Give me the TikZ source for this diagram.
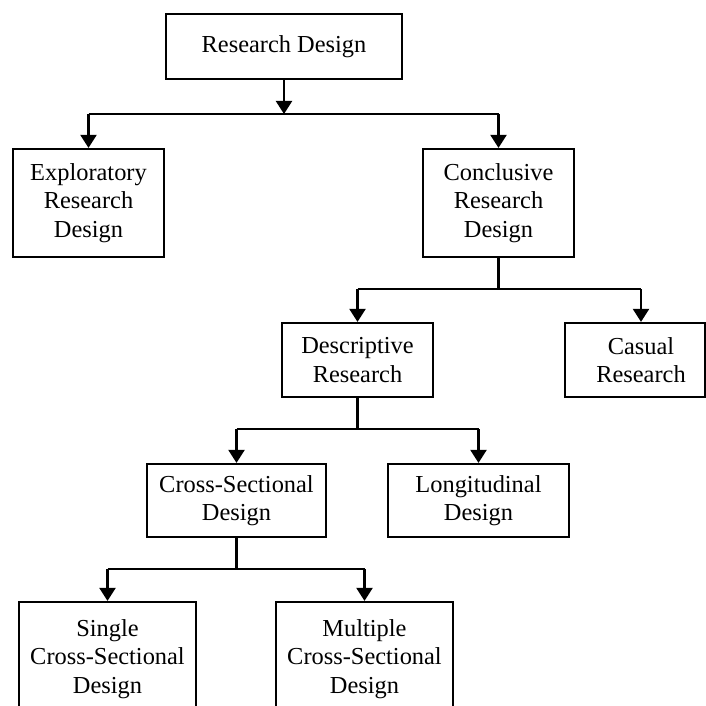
\documentclass[tikz,border=0pt]{standalone}
\usepackage{fontspec}
\setmainfont{Liberation Serif}
\usetikzlibrary{arrows.meta,calc}
\tikzset{
  box/.style={draw, line width=2.2pt, inner sep=0pt, align=center,
    font=\fontsize{24.4}{28.5}\selectfont},
  conn/.style={line width=2.2pt},
  arr/.style={line width=2.2pt, -{Triangle[width=16pt,length=13pt]}}
}
\begin{document}
\begin{tikzpicture}[x=1pt,y=-1pt]
\useasboundingbox[fill=white] (0,0) rectangle (706,706);
\node[box, minimum width=236, minimum height=65] (rd) at (284,46.5) {Research Design};
\node[box, minimum width=151, minimum height=108] (exp) at (88.5,203) {Exploratory\\Research\\Design};
\node[box, minimum width=151, minimum height=108] (con) at (498.5,203) {Conclusive\\Research\\Design};
\node[box, minimum width=151, minimum height=74] (desc) at (357.5,360) {Descriptive\\Research};
\node[box, minimum width=140, minimum height=74] (cas) at (635,360) {\hspace*{12pt}Casual\\\hspace*{12pt}Research};
\node[box, minimum width=179, minimum height=73] (cross) at (236.5,500.5) {Cross-Sectional\\Design};
\node[box, minimum width=181, minimum height=73] (long) at (478.5,500.5) {Longitudinal\\Design};
\node[box, minimum width=177, minimum height=114] (single) at (107.5,659) {Single\\Cross-Sectional\\Design};
\node[box, minimum width=177, minimum height=114] (mult) at (364.5,659) {Multiple\\Cross-Sectional\\Design};

% level 1
\coordinate (j1) at (284,114);
\draw[arr] (rd.south) -- (rd.south |- j1);
\draw[conn] (exp.north |- j1) -- (con.north |- j1);
\draw[arr] (exp.north |- j1) -- (exp.north);
\draw[arr] (con.north |- j1) -- (con.north);

% level 2
\coordinate (j2) at (498.5,289);
\coordinate (castop) at ($(cas.north)+(6,0)$);
\draw[conn] (con.south) -- (con.south |- j2);
\draw[conn] (desc.north |- j2) -- (castop |- j2);
\draw[arr] (desc.north |- j2) -- (desc.north);
\draw[arr] (castop |- j2) -- (castop);

% level 3
\coordinate (j3) at (357.5,429);
\draw[conn] (desc.south) -- (desc.south |- j3);
\draw[conn] (cross.north |- j3) -- (long.north |- j3);
\draw[arr] (cross.north |- j3) -- (cross.north);
\draw[arr] (long.north |- j3) -- (long.north);

% level 4
\coordinate (j4) at (236.5,569);
\draw[conn] (cross.south) -- (cross.south |- j4);
\draw[conn] (single.north |- j4) -- (mult.north |- j4);
\draw[arr] (single.north |- j4) -- (single.north);
\draw[arr] (mult.north |- j4) -- (mult.north);
\end{tikzpicture}
\end{document}
